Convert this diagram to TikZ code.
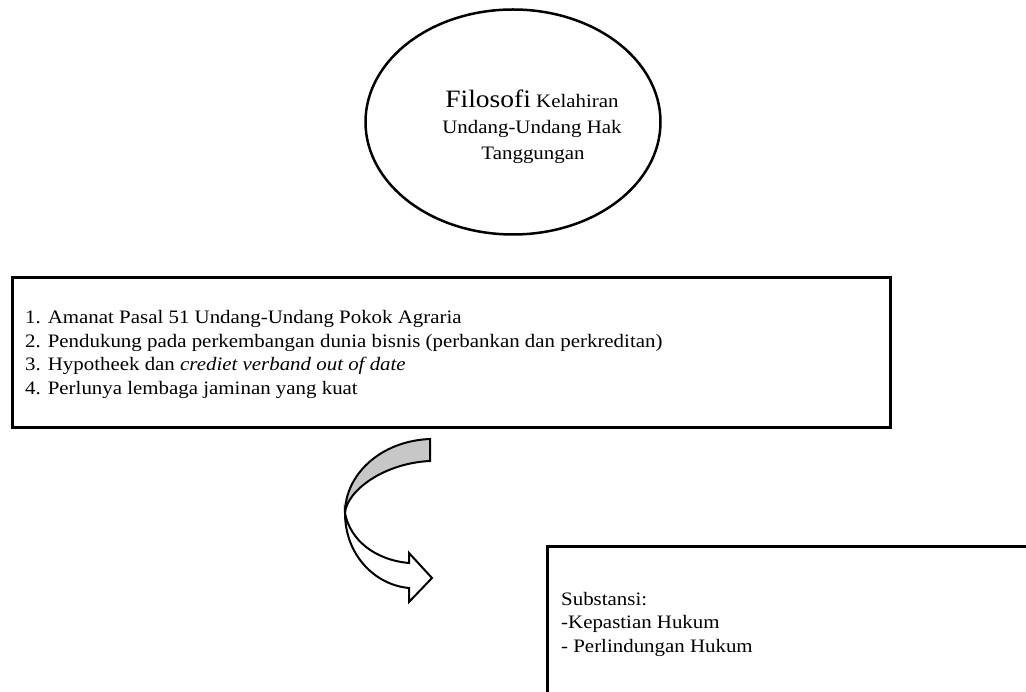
\documentclass[tikz,border=0pt]{standalone}
\usepackage{fontspec}
\setmainfont[FakeStretch=1.1]{Liberation Serif}
\usetikzlibrary{shapes.geometric}
\begin{document}
\begin{tikzpicture}[x=1pt,y=-1pt,
  txt/.style={inner sep=0pt, font=\fontsize{19}{23}\selectfont},
  line/.style={txt, anchor=base west},
  title/.style={txt, anchor=base},
  frame/.style={draw, line width=3pt, inner sep=0pt},
  ribbon/.style={draw, line width=2pt, line join=miter}]
  \path[fill=white] (0,0) rectangle (1026,692);
  \useasboundingbox (0,0) rectangle (1026,692);
  \clip (0,0) rectangle (1026,692);

  % top ellipse with the title
  \node[ellipse, draw, line width=2.5pt, minimum width=295pt, minimum height=225pt] (philo) at (513,122) {};
  \node[title] (philo1) at (532,108) {{\fontsize{25}{25}\selectfont Filosofi} Kelahiran};
  \node[title] (philo2) at (532,134) {Undang-Undang Hak};
  \node[title] (philo3) at (533,160) {Tanggungan};

  % box with the four reasons
  \node[frame, minimum width=878pt, minimum height=150pt] (reasons) at (451,353) {};
  \node[line] (r1) at (25,324) {1. Amanat Pasal 51 Undang-Undang Pokok Agraria};
  \node[line] (r2) at (25,347.5) {2. Pendukung pada perkembangan dunia bisnis (perbankan dan perkreditan)};
  \node[line] (r3) at (25,371) {3. Hypotheek dan \textit{crediet verband out of date}};
  \node[line] (r4) at (25,394.5) {4. Perlunya lembaga jaminan yang kuat};

  % curved arrow: shaded back of the ribbon, then the front with its head
  \coordinate (bend) at (345,513);
  \filldraw[ribbon, fill=black!22] (430,439) .. controls (380,441) and (345,475) .. (bend)
     .. controls (347,490) and (385,463) .. (430,461) -- cycle;
  \filldraw[ribbon, fill=white] (bend) .. controls (350,540) and (375,560) .. (409,563)
     -- (409,553) -- (432,578) -- (409,602) -- (409,588)
     .. controls (375,585) and (345,555) .. (bend) -- cycle;

  % box with the substance
  \node[frame, anchor=north west, minimum width=520pt, minimum height=200pt] (substance) at (546,545) {};
  \node[line] (s1) at (561,605) {Substansi:};
  \node[line] (s2) at (561,628) {-Kepastian Hukum};
  \node[line] (s3) at (561,652) {- Perlindungan Hukum};
\end{tikzpicture}
\end{document}
